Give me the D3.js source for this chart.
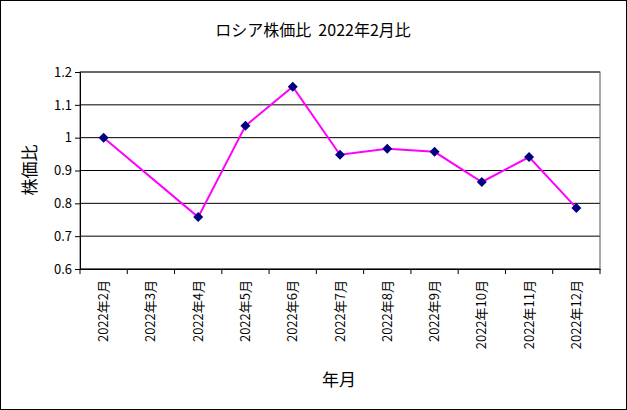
<!DOCTYPE html>
<html><head><meta charset="utf-8">
<script src="https://cdn.jsdelivr.net/npm/d3@7"></script>
<style>body{margin:0;background:#fff}</style>
</head><body>
<svg id="c" width="627" height="410"></svg>
<script>
const categories=["2022年2月","2022年3月","2022年4月","2022年5月","2022年6月","2022年7月","2022年8月","2022年9月","2022年10月","2022年11月","2022年12月"];
const values=[1.0,null,0.758,1.036,1.155,0.948,0.966,0.957,0.865,0.941,0.786];
const yTicks=[0.6,0.7,0.8,0.9,1.0,1.1,1.2];
const font="'Noto Sans CJK JP', sans-serif";
const svg=d3.select("#c");
svg.append("rect").attr("x",0.5).attr("y",0.5).attr("width",626).attr("height",409).attr("fill","#fff").attr("stroke","#000");
const L=80,R=600,T=72,B=269;
const x=d3.scaleBand().domain(categories).range([L,R]);
const y=d3.scaleLinear().domain([0.6,1.2]).range([B,T]);
const g=svg.append("g");
yTicks.forEach(t=>g.append("line").attr("x1",L).attr("x2",R).attr("y1",y(t)).attr("y2",y(t)).attr("stroke","#000"));
g.append("rect").attr("x",L).attr("y",T).attr("width",R-L).attr("height",B-T).attr("fill","none").attr("stroke","#555");
const ya=svg.append("g").attr("transform",`translate(${L},0)`).call(d3.axisLeft(y).tickValues(yTicks).tickSize(5).tickFormat(d=>d3.format("")(+d.toFixed(1))));
ya.select(".domain").attr("stroke","#000");
ya.selectAll("text").attr("font-family",font).attr("font-size",13).attr("fill","#000");
const xa=svg.append("g").attr("transform",`translate(0,${B})`).call(d3.axisBottom(x).tickSize(0));
xa.select(".domain").attr("stroke","#000");
xa.selectAll("text").attr("font-family",font).attr("font-size",13).attr("fill","#000")
 .attr("transform","rotate(-90)").attr("text-anchor","end").attr("dx","-11").attr("dy","0.35em").attr("y",0).attr("x",0);
categories.concat(["end"]).forEach((c,i)=>{const xx=L+i*x.bandwidth();svg.append("line").attr("x1",xx).attr("x2",xx).attr("y1",B).attr("y2",B+5).attr("stroke","#000");});
const pts=categories.map((c,i)=>({c,v:values[i]})).filter(d=>d.v!=null);
svg.append("path").datum(pts).attr("fill","none").attr("stroke","#ff00ff").attr("stroke-width",2)
 .attr("d",d3.line().x(d=>x(d.c)+x.bandwidth()/2).y(d=>y(d.v)));
svg.selectAll(".m").data(pts).enter().append("path").attr("fill","#000080")
 .attr("transform",d=>`translate(${x(d.c)+x.bandwidth()/2},${y(d.v)})`).attr("d","M0,-5L5,0L0,5L-5,0Z");
svg.append("text").attr("x",313).attr("y",36).attr("text-anchor","middle").attr("font-family",font).attr("font-size",16).style("white-space","pre").text("ロシア株価比  2022年2月比");
svg.append("text").attr("transform","translate(36,170) rotate(-90)").attr("text-anchor","middle").attr("font-family",font).attr("font-size",17).text("株価比");
svg.append("text").attr("x",339).attr("y",386).attr("text-anchor","middle").attr("font-family",font).attr("font-size",17).text("年月");
</script>
</body></html>
